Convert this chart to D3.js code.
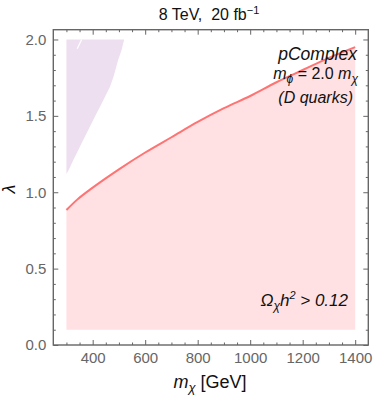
<!DOCTYPE html>
<html>
<head>
<meta charset="utf-8">
<script src="https://cdn.jsdelivr.net/npm/d3@7"></script>
<style>
  body { margin: 0; background: #fff; }
  svg { font-family: "Liberation Sans", Arial, sans-serif; }
  .tick text { fill: #666; font-size: 15px; }
  .domain { display: none; }
</style>
</head>
<body>
<div id="chart"></div>
<script>
// relic density contour (Omega h^2 = 0.12), m_chi vs lambda
const mxLine  = [300, 340, 400, 500, 600, 700, 800, 900, 1000, 1100, 1200, 1300, 1400];
const lamLine = [0.884, 0.95, 1.03, 1.15, 1.26, 1.36, 1.46, 1.55, 1.63, 1.72, 1.80, 1.88, 1.95];
const lamFloor = 0.1;

// excluded region (8 TeV, 20 fb^-1), outline as [m_chi, lambda]
const mxExcl  = [300, 520, 510, 497, 480, 466, 428, 415, 364, 326, 310, 300];
const lamExcl = [2.0, 2.0, 1.93, 1.866, 1.76, 1.69, 1.56, 1.517, 1.342, 1.21, 1.15, 1.12];

// thin white crack in the excluded region
const mxCrack  = [358, 341];
const lamCrack = [2.0, 1.94];

const xMajor = [400, 600, 800, 1000, 1200, 1400];
const yMajor = [0.0, 0.5, 1.0, 1.5, 2.0];

const W = 374, H = 398;
const mLeft = 53.3, mRight = 368.3, mTop = 29.7, mBottom = 345;

const svg = d3.select("#chart").append("svg")
    .attr("width", W).attr("height", H);

const x = d3.scaleLinear().domain([250, 1450]).range([mLeft, mRight]);
const y = d3.scaleLinear().domain([0, 2.064]).range([mBottom, mTop]);

const line = d3.line().x(d => x(d[0])).y(d => y(d[1]));
const smooth = d3.line().x(d => x(d[0])).y(d => y(d[1])).curve(d3.curveMonotoneX);

// pink region under contour
const area = d3.area().x(d => x(d[0])).y0(y(lamFloor)).y1(d => y(d[1]))
    .curve(d3.curveMonotoneX);
const linePts = mxLine.map((m, i) => [m, lamLine[i]]);
svg.append("path").datum(linePts)
    .attr("d", area).attr("fill", "#ffe1e3");

// purple excluded region
const exclPts = mxExcl.map((m, i) => [m, lamExcl[i]]);
svg.append("path")
    .attr("d", line(exclPts) + "Z").attr("fill", "#eedff0");

svg.append("path").datum(mxCrack.map((m, i) => [m, lamCrack[i]]))
    .attr("d", line).attr("fill", "none")
    .attr("stroke", "#fff").attr("stroke-width", 1.2);

// contour line
svg.append("path").datum(linePts)
    .attr("d", smooth).attr("fill", "none")
    .attr("stroke", "#ff7373").attr("stroke-width", 2);

// frame + ticks (inward, all four sides)
const xMinor = d3.range(300, 1450, 50).filter(v => !xMajor.includes(v));
const yMinor = d3.range(0, 21).map(i => i / 10).filter(v => !yMajor.includes(v));

function addAxis(axisFn, scale, pos, major, minor, labels) {
    svg.append("g").attr("transform", pos)
        .call(axisFn(scale).tickValues(minor).tickSize(-2.5).tickFormat(""));
    svg.append("g").attr("transform", pos)
        .call(axisFn(scale).tickValues(major).tickSize(-5).tickPadding(labels ? 7 : 0)
            .tickFormat(labels ? labels : ""));
    svg.selectAll(".tick line").attr("stroke", "#666").attr("stroke-width", 1);
}

addAxis(d3.axisBottom, x, `translate(0,${mBottom})`, xMajor, xMinor, d3.format("d"));
addAxis(d3.axisTop, x, `translate(0,${mTop})`, xMajor, xMinor, null);
addAxis(d3.axisLeft, y, `translate(${mLeft},0)`, yMajor, yMinor, d3.format(".1f"));
addAxis(d3.axisRight, y, `translate(${mRight},0)`, yMajor, yMinor, null);

svg.append("rect")
    .attr("x", mLeft).attr("y", mTop)
    .attr("width", mRight - mLeft).attr("height", mBottom - mTop)
    .attr("fill", "none").attr("stroke", "#666").attr("stroke-width", 1.4);

// title
const title = svg.append("text")
    .attr("x", 209).attr("y", 20).attr("text-anchor", "middle")
    .attr("font-size", 16).attr("fill", "#111");
title.append("tspan").text("8 TeV,\u00a0\u00a020 fb");
title.append("tspan").attr("font-size", 11).attr("dy", -6).text("\u22121");

// axis titles
const xt = svg.append("text")
    .attr("x", 210).attr("y", 388).attr("text-anchor", "middle")
    .attr("font-size", 18).attr("fill", "#111");
xt.append("tspan").attr("font-style", "italic").text("m");
xt.append("tspan").attr("font-style", "italic").attr("font-size", 13).attr("dy", 4).text("\u03c7");
xt.append("tspan").attr("dy", -4).text(" [GeV]");

svg.append("text")
    .attr("transform", "translate(15,189) rotate(-90)")
    .attr("text-anchor", "middle")
    .attr("font-size", 18).attr("font-style", "italic").attr("fill", "#111")
    .text("\u03bb");

// in-plot labels
svg.append("text")
    .attr("x", 357).attr("y", 60).attr("text-anchor", "end")
    .attr("font-size", 17.5).attr("font-style", "italic").attr("fill", "#111")
    .text("pComplex");

const mt = svg.append("text")
    .attr("x", 358).attr("y", 79).attr("text-anchor", "end")
    .attr("font-size", 16).attr("font-style", "italic").attr("fill", "#111");
mt.append("tspan").text("m");
mt.append("tspan").attr("font-size", 12).attr("dy", 4).text("\u03d5");
mt.append("tspan").attr("dy", -4).attr("font-style", "normal").text(" = 2.0 ");
mt.append("tspan").text("m");
mt.append("tspan").attr("font-size", 12).attr("dy", 4).text("\u03c7");

svg.append("text")
    .attr("x", 353).attr("y", 103).attr("text-anchor", "end")
    .attr("font-size", 16).attr("font-style", "italic").attr("fill", "#111")
    .text("(D quarks)");

const om = svg.append("text")
    .attr("x", 348).attr("y", 306).attr("text-anchor", "end")
    .attr("font-size", 17).attr("font-style", "italic").attr("fill", "#111");
om.append("tspan").text("\u03a9");
om.append("tspan").attr("font-size", 12).attr("dy", 4).text("\u03c7");
om.append("tspan").attr("dy", -4).text("h");
om.append("tspan").attr("font-size", 11).attr("dy", -7).text("2");
om.append("tspan").attr("dy", 7).text(" > 0.12");
</script>
</body>
</html>
